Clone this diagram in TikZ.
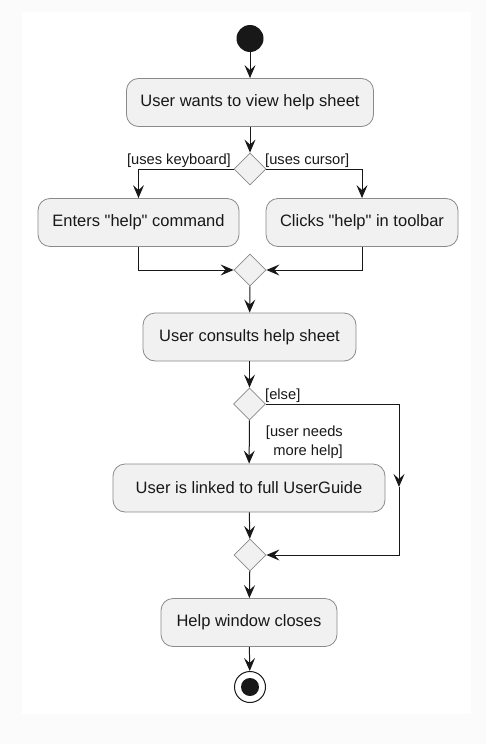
\documentclass[tikz,border=0pt]{standalone}
\usepackage{fontspec}
\setmainfont{Liberation Sans}[Ligatures=TeXOff]
\usetikzlibrary{positioning,shapes.geometric,arrows.meta}
\definecolor{actfill}{HTML}{F1F1F1}
\definecolor{lineclr}{HTML}{181818}
\definecolor{bordclr}{HTML}{8A8A8A}
\definecolor{pagebg}{HTML}{FBFBFB}

\begin{document}
\begin{tikzpicture}[x=1pt,y=-1pt,inner sep=0pt,
  act/.style={draw=bordclr,fill=actfill,rounded corners=12pt,line width=0.8pt,
    minimum height=48pt,font=\fontsize{16.5}{19}\selectfont,text=lineclr},
  choice/.style={diamond,draw=bordclr,fill=actfill,line width=0.8pt,minimum size=32pt,aspect=1},
  flow/.style={draw=lineclr,line width=1pt,-{Stealth[length=13pt,width=11pt,inset=5pt]}},
  guard/.style={font=\fontsize{14.7}{19}\selectfont,text=lineclr}]
\useasboundingbox (0,0) rectangle (486,744);
\fill[pagebg] (0,0) rectangle (486,744);
\fill[white] (22,12) rectangle (471,714);

% actions and decisions
\node (start) at (250,38.5) [circle,fill=lineclr,minimum size=27pt] {};
\node (a1) at (250,102.5) [act,minimum width=247pt] {User wants to view help sheet};
\node (d1) at (250,169) [choice] {};
\node (a2) at (138.5,222.5) [act,minimum width=201pt] {Enters "help" command};
\node (a3) at (362,222.5) [act,minimum width=192pt] {Clicks "help" in toolbar};
\node (d2) at (250,270) [choice] {};
\node (a4) at (249.5,337) [act,minimum width=213pt] {User consults help sheet};
\node (d3) at (249.5,404) [choice] {};
\node (a5) at (249,488) [act,minimum width=272pt] {User is linked to full UserGuide};
\node (d4) at (250,555) [choice] {};
\node (a6) at (249,622.5) [act,minimum width=176pt] {Help window closes};
\node (stop) at (250,687) [circle,draw=lineclr,line width=1pt,fill=white,minimum size=31pt] {};
\node (stopdot) at (stop) [circle,fill=lineclr,minimum size=18pt] {};

% guards
\node (kbd) at (231,164) [guard,anchor=base east] {[uses keyboard]};
\node (cur) at (265,164) [guard,anchor=base west] {[uses cursor]};
\node (els) at (265,399) [guard,anchor=base west] {[else]};
\node (more) at (343,442) [guard,anchor=east,align=right] {[user needs\\ more help]};

\coordinate (e1) at (399,404);
\coordinate (e2) at (399,487);
\coordinate (e3) at (399,555);

% flows
\draw[flow] (start) -- (a1);
\draw[flow] (a1) -- (d1);
\draw[flow] (d1.west) -| (a2);
\draw[flow] (d1.east) -| (a3);
\draw[flow] (a2) |- (d2.west);
\draw[flow] (a3) |- (d2.east);
\draw[flow] (d2) -- (a4);
\draw[flow] (a4) -- (d3);
\draw[flow] (d3) -- (a5);
\draw[flow] (d3.east) -- (e1) -- (e2);
\draw[flow] (e2) -- (e3) -- (d4.east);
\draw[flow] (a5) -- (d4);
\draw[flow] (d4) -- (a6);
\draw[flow] (a6) -- (stop);
\end{tikzpicture}
\end{document}
